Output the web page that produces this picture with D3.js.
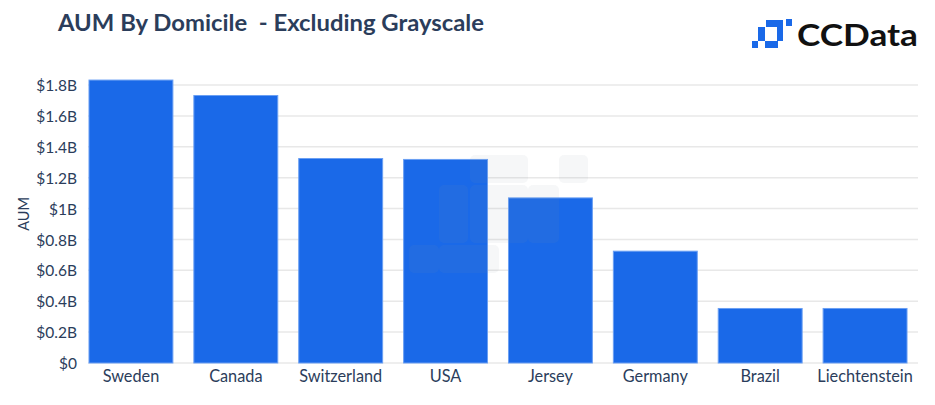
<!DOCTYPE html>
<html>
<head>
<meta charset="utf-8">
<script src="https://cdn.jsdelivr.net/npm/d3@7"></script>
<style>
  body { margin: 0; background: #fff; }
  svg { display: block; }
</style>
</head>
<body>
<div id="chart"></div>
<script>
const WIDTH = 935;
const HEIGHT = 405;

// data (USD billions)
const countries = ['Sweden', 'Canada', 'Switzerland', 'USA', 'Jersey', 'Germany', 'Brazil', 'Liechtenstein'];
const aum = [1.832, 1.732, 1.324, 1.318, 1.069, 0.724, 0.353, 0.353];
const yTicks = [0, 0.2, 0.4, 0.6, 0.8, 1, 1.2, 1.4, 1.6, 1.8];
const yTickLabels = ['$0', '$0.2B', '$0.4B', '$0.6B', '$0.8B', '$1B', '$1.2B', '$1.4B', '$1.6B', '$1.8B'];

const TEXT = '#2b3d5b';
const BLUE = '#1a69e8';
const FONT = 'Lato, "Open Sans", sans-serif';

const svg = d3.select('#chart')
  .append('svg')
    .attr('width', WIDTH)
    .attr('height', HEIGHT);

const x = d3.scaleBand()
  .domain(countries)
  .range([78.5, 917.5])
  .paddingInner(0.2)
  .paddingOuter(0.1);

const y = d3.scaleLinear()
  .domain([0, 1.8])
  .range([363, 85]);

// gridlines
svg.append('g')
  .selectAll('line')
  .data(yTicks)
  .join('line')
    .attr('x1', 88)
    .attr('x2', 918)
    .attr('y1', d => y(d))
    .attr('y2', d => y(d))
    .attr('stroke', '#e8e8e8')
    .attr('stroke-width', 1.5);

// y axis labels
const yAxis = d3.axisLeft(y)
  .tickValues(yTicks)
  .tickSize(0)
  .tickPadding(0)
  .tickFormat((d, i) => yTickLabels[i]);

svg.append('g')
  .attr('transform', 'translate(77,0)')
  .call(yAxis)
  .call(g => g.select('.domain').remove())
  .call(g => g.selectAll('text')
    .attr('fill', TEXT)
    .attr('font-family', FONT)
    .attr('font-size', 15.5)
    .attr('dy', '0.36em'));

svg.append('text')
  .attr('transform', 'translate(29,214) rotate(-90)')
  .attr('text-anchor', 'middle')
  .attr('fill', TEXT)
  .attr('font-family', FONT)
  .attr('font-size', 14.5)
  .text('AUM');

// bars
svg.append('g')
  .selectAll('rect')
  .data(countries)
  .join('rect')
    .attr('x', d => x(d))
    .attr('y', (d, i) => y(aum[i]))
    .attr('width', x.bandwidth())
    .attr('height', (d, i) => y(0) - y(aum[i]))
    .attr('fill', BLUE)
    .attr('stroke', '#6a9ff3')
    .attr('stroke-width', 1);

// x axis labels
const xAxis = d3.axisBottom(x).tickSize(0).tickPadding(0);
svg.append('g')
  .attr('transform', 'translate(0,382)')
  .call(xAxis)
  .call(g => g.select('.domain').remove())
  .call(g => g.selectAll('text')
    .attr('fill', TEXT)
    .attr('font-family', FONT)
    .attr('font-size', 16.3)
    .attr('dy', 0));

// faint watermark
const wm = [[470, 155, 58, 28], [559, 155, 29, 28], [439, 185, 29, 58], [470, 185, 58, 58],
            [528, 185, 31, 58], [409, 245, 30, 28], [439, 245, 60, 28]];
svg.append('g')
  .selectAll('rect')
  .data(wm)
  .join('rect')
    .attr('x', d => d[0])
    .attr('y', d => d[1])
    .attr('width', d => d[2])
    .attr('height', d => d[3])
    .attr('rx', 5)
    .attr('fill', '#8a94a6')
    .attr('opacity', 0.08);

// title
svg.append('text')
  .attr('x', 58)
  .attr('y', 31)
  .attr('fill', TEXT)
  .attr('font-family', FONT)
  .attr('font-weight', 700)
  .attr('font-size', 22)
  .attr('textLength', 426)
  .attr('lengthAdjust', 'spacingAndGlyphs')
  .attr('xml:space', 'preserve')
  .text('AUM By Domicile  - Excluding Grayscale');

// logo
const logo = [[766, 20, 17, 7], [786, 19, 6, 7], [758, 27, 7, 14], [777, 27, 6, 14],
              [765, 41, 13, 7], [752, 41, 6, 7]];
svg.append('g')
  .selectAll('rect')
  .data(logo)
  .join('rect')
    .attr('x', d => d[0])
    .attr('y', d => d[1])
    .attr('width', d => d[2])
    .attr('height', d => d[3])
    .attr('fill', BLUE);

svg.append('text')
  .attr('x', 797)
  .attr('y', 46)
  .attr('fill', '#111')
  .attr('font-family', FONT)
  .attr('font-weight', 700)
  .attr('font-size', 30)
  .attr('textLength', 121)
  .attr('lengthAdjust', 'spacingAndGlyphs')
  .text('CCData');
</script>
</body>
</html>
